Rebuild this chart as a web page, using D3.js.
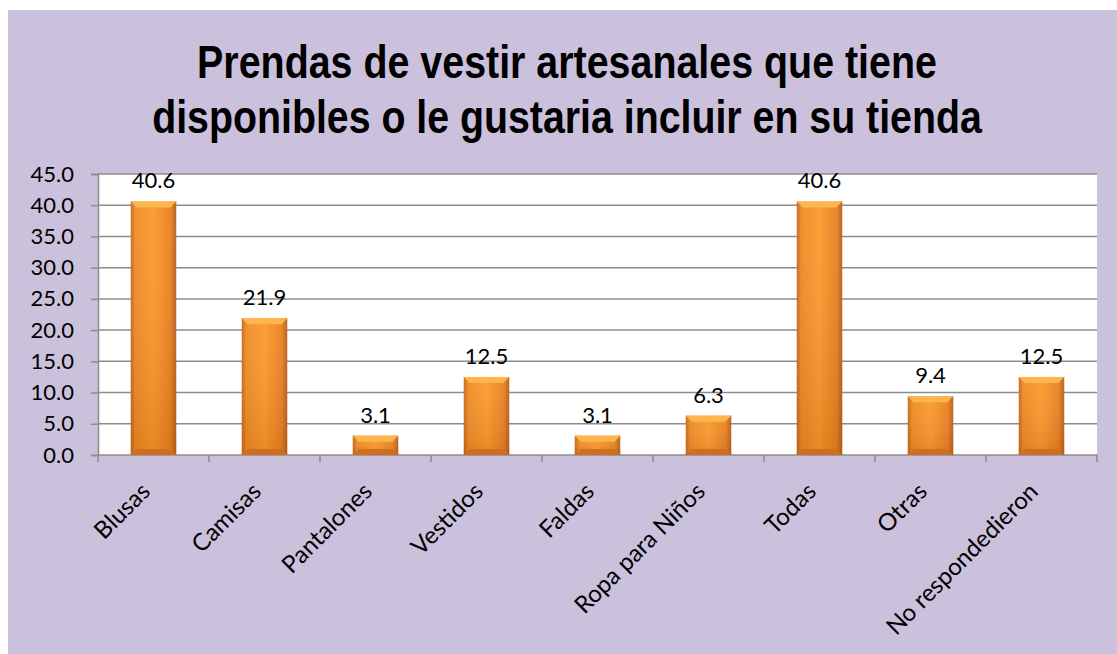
<!DOCTYPE html>
<html>
<head>
<meta charset="utf-8">
<script src="https://cdn.jsdelivr.net/npm/d3@7"></script>
<style>
  html, body { margin: 0; padding: 0; background: #ffffff; }
  svg { display: block; }
</style>
</head>
<body>
<div id="chart"></div>
<script>
(function() {
    // données
    const categories = ["Blusas", "Camisas", "Pantalones", "Vestidos", "Faldas",
                        "Ropa para Niños", "Todas", "Otras", "No respondedieron"];
    const values = [40.6, 21.9, 3.1, 12.5, 3.1, 6.3, 40.6, 9.4, 12.5];
    const yTicks = [0, 5, 10, 15, 20, 25, 30, 35, 40, 45];
    const titleLines = ["Prendas de vestir artesanales que tiene",
                        "disponibles o le gustaria incluir en su tienda"];

    const width = 1117, height = 654;
    const plot = { left: 98, right: 1097, top: 174, bottom: 455 };
    const labelFont = "Lato, 'Open Sans', sans-serif";

    const svg = d3.select("#chart").append("svg")
        .attr("width", width).attr("height", height);

    // fond
    svg.append("rect")
        .attr("x", 8).attr("y", 10)
        .attr("width", width - 8).attr("height", height - 10)
        .attr("fill", "#cbc1dc");

    // titre (police étroite simulée par une mise à l'échelle horizontale)
    const titleWidths = [740, 830];
    svg.append("g").selectAll("text")
        .data(titleLines)
        .join("text")
        .attr("x", 0).attr("y", 0)
        .attr("text-anchor", "middle")
        .style("font-family", "'Liberation Sans', Arial, sans-serif")
        .style("font-weight", "bold")
        .style("font-size", "46px")
        .attr("fill", "#000")
        .text(d => d)
        .each(function(d, i) {
            const w = this.getComputedTextLength();
            const k = titleWidths[i] / w;
            d3.select(this).attr("transform", `translate(567,${78 + i * 55}) scale(${k},1)`);
        });

    const x = d3.scaleBand().domain(categories).range([plot.left, plot.right]).paddingInner(0.59).paddingOuter(0.295);
    const y = d3.scaleLinear().domain([0, 45]).range([plot.bottom, plot.top]);

    // zone du graphique
    svg.append("rect")
        .attr("x", plot.left).attr("y", plot.top)
        .attr("width", plot.right - plot.left).attr("height", plot.bottom - plot.top)
        .attr("fill", "#ffffff");

    // grille
    svg.append("g").selectAll("line")
        .data(yTicks.filter(t => t > 0))
        .join("line")
        .attr("x1", plot.left).attr("x2", plot.right)
        .attr("y1", d => y(d)).attr("y2", d => y(d))
        .attr("stroke", "#8c8c8c").attr("stroke-width", 1.5);

    // axe Y
    const yAxis = svg.append("g")
        .attr("transform", `translate(${plot.left},0)`)
        .call(d3.axisLeft(y).tickValues(yTicks).tickFormat(d3.format(".1f")).tickSize(7).tickPadding(17));
    yAxis.select(".domain").attr("stroke", "#8c8c8c").attr("stroke-width", 1.5);
    yAxis.selectAll(".tick line").attr("stroke", "#8c8c8c").attr("stroke-width", 1.5);
    yAxis.selectAll("text")
        .style("font-family", labelFont)
        .style("font-size", "22px").attr("fill", "#000");

    // axe X
    const xBoundaries = d3.range(categories.length + 1).map(i => plot.left + i * (plot.right - plot.left) / categories.length);
    svg.append("line")
        .attr("x1", plot.left).attr("x2", plot.right)
        .attr("y1", plot.bottom).attr("y2", plot.bottom)
        .attr("stroke", "#8c8c8c").attr("stroke-width", 1.5);
    svg.append("g").selectAll("line")
        .data(xBoundaries)
        .join("line")
        .attr("x1", d => d).attr("x2", d => d)
        .attr("y1", plot.bottom).attr("y2", plot.bottom + 7)
        .attr("stroke", "#8c8c8c").attr("stroke-width", 1.5);

    svg.append("g").selectAll("text")
        .data(categories)
        .join("text")
        .attr("transform", d => `translate(${x(d) + x.bandwidth() / 2 - 2},${plot.bottom + 38}) rotate(-45)`)
        .attr("text-anchor", "end")
        .style("font-family", labelFont)
        .style("font-size", "24px")
        .attr("fill", "#000")
        .text(d => d);

    // dégradés des barres
    const defs = svg.append("defs");
    const grad = defs.append("linearGradient").attr("id", "barGrad")
        .attr("x1", "0").attr("x2", "1").attr("y1", "0").attr("y2", "0");
    grad.append("stop").attr("offset", "0%").attr("stop-color", "#c4651c");
    grad.append("stop").attr("offset", "10%").attr("stop-color", "#ef8a24");
    grad.append("stop").attr("offset", "50%").attr("stop-color", "#fb9a2c");
    grad.append("stop").attr("offset", "88%").attr("stop-color", "#e97f20");
    grad.append("stop").attr("offset", "100%").attr("stop-color", "#b35d1a");
    const gradV = defs.append("linearGradient").attr("id", "barShade")
        .attr("x1", "0").attr("x2", "0").attr("y1", "0").attr("y2", "1");
    gradV.append("stop").attr("offset", "0%").attr("stop-color", "#fff").attr("stop-opacity", 0.05);
    gradV.append("stop").attr("offset", "100%").attr("stop-color", "#8a3c00").attr("stop-opacity", 0.18);

    const bars = svg.append("g").selectAll("g")
        .data(values)
        .join("g");

    bars.append("rect")
        .attr("x", (d, i) => x(categories[i]))
        .attr("y", d => y(d))
        .attr("width", x.bandwidth())
        .attr("height", d => y(0) - y(d))
        .attr("fill", "url(#barGrad)");
    bars.append("rect")
        .attr("x", (d, i) => x(categories[i]))
        .attr("y", d => y(d))
        .attr("width", x.bandwidth())
        .attr("height", d => y(0) - y(d))
        .attr("fill", "url(#barShade)");

    // biseau supérieur
    const bev = 6;
    bars.append("path")
        .attr("d", (d, i) => {
            const x0 = x(categories[i]), x1 = x0 + x.bandwidth(), t = y(d);
            const b = Math.min(bev, (y(0) - t) / 2);
            return `M${x0},${t}L${x1},${t}L${x1 - b},${t + b}L${x0 + b},${t + b}Z`;
        })
        .attr("fill", "#fdb54c");
    // biseau inférieur
    bars.append("path")
        .attr("d", (d, i) => {
            const x0 = x(categories[i]), x1 = x0 + x.bandwidth(), bt = y(0);
            const b = Math.min(bev, (y(0) - y(d)) / 2);
            return `M${x0},${bt}L${x1},${bt}L${x1 - b},${bt - b}L${x0 + b},${bt - b}Z`;
        })
        .attr("fill", "#d06e20");

    // étiquettes des valeurs
    svg.append("g").selectAll("text")
        .data(values)
        .join("text")
        .attr("x", (d, i) => x(categories[i]) + x.bandwidth() / 2)
        .attr("y", d => y(d) - 13)
        .attr("text-anchor", "middle")
        .style("font-family", labelFont)
        .style("font-size", "22px")
        .attr("fill", "#000")
        .text(d => d.toFixed(1));
})();
</script>
</body>
</html>
